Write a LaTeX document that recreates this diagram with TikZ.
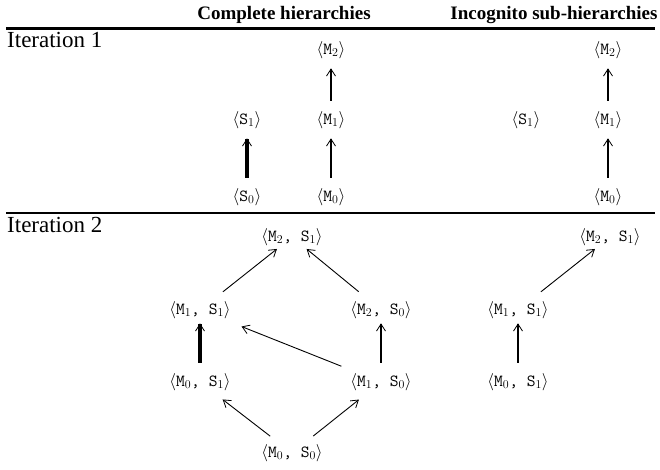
\documentclass[tikz,border=0pt]{standalone}
\usepackage[no-math]{fontspec}
\setmainfont{Liberation Serif}
\usetikzlibrary{arrows.meta,positioning}

\tikzset{
  lev/.style={inner sep=2.5pt, font=\fontsize{17}{20}\selectfont},
  conn/.style={-{Straight Barb[length=7pt,width=9pt,line width=0.8pt]},
    line width=0.9pt, shorten <=8pt, shorten >=5pt},
  medium/.style={conn, line width=2.2pt},
  heavy/.style={conn, line width=3.2pt},
  rulebar/.style={line width=2.8pt},
  colhead/.style={anchor=base, font=\fontsize{19}{22}\selectfont\bfseries},
  iterlabel/.style={anchor=base west, inner sep=0pt, font=\fontsize{23}{26}\selectfont}
}
\newcommand{\gen}[1]{$\langle$\texttt{#1}$\rangle$}

\begin{document}
\begin{tikzpicture}[x=1pt,y=-1pt]
\useasboundingbox (0,0) rectangle (660,470);

\node[colhead] (headA) at (284,20) {Complete hierarchies};
\node[colhead] (headB) at (554,20) {Incognito sub-hierarchies};

\draw[rulebar] (6,28.5) coordinate (ruleAw) -- (655,28.5) coordinate (ruleAe);
\draw[rulebar] (6,213) coordinate (ruleBw) -- (655,213) coordinate (ruleBe);

\node[iterlabel] (iterA) at (7,48) {Iteration 1};
\node[iterlabel] (iterB) at (7,233) {Iteration 2};

% iteration 1, complete
\node[lev] (cM2) at (331,50) {\gen{M$_2$}};
\node[lev] (cM1) at (331,120) {\gen{M$_1$}};
\node[lev] (cM0) at (331,197) {\gen{M$_0$}};
\node[lev] (cS1) at (247,120) {\gen{S$_1$}};
\node[lev] (cS0) at (247,197) {\gen{S$_0$}};

\draw[heavy,shorten >=7pt] (cS0) -- (cS1);
\draw[medium,shorten >=7pt] (cM0) -- (cM1);
\draw[medium,shorten >=7pt] (cM1) -- (cM2);

% iteration 1, incognito
\node[lev] (iM2) at (608,50) {\gen{M$_2$}};
\node[lev] (iM1) at (608,120) {\gen{M$_1$}};
\node[lev] (iM0) at (608,197) {\gen{M$_0$}};
\node[lev] (iS1) at (526,120) {\gen{S$_1$}};

\draw[medium,shorten >=7pt] (iM0) -- (iM1);
\draw[medium,shorten >=7pt] (iM1) -- (iM2);

% iteration 2, complete
\node[lev] (cM2S1) at (292,237) {\gen{M$_2$, S$_1$}};
\node[lev] (cM1S1) at (200,310) {\gen{M$_1$, S$_1$}};
\node[lev] (cM2S0) at (381,310) {\gen{M$_2$, S$_0$}};
\node[lev] (cM0S1) at (200,382) {\gen{M$_0$, S$_1$}};
\node[lev] (cM1S0) at (381,382) {\gen{M$_1$, S$_0$}};
\node[lev] (cM0S0) at (292,453) {\gen{M$_0$, S$_0$}};

\draw[heavy,shorten >=2pt] (cM0S1) -- (cM1S1);
\draw[medium,shorten >=2pt] (cM1S0) -- (cM2S0);
\draw[conn,shorten <=11pt,shorten >=1pt] (cM1S1) -- (cM2S1);
\draw[conn,shorten <=11pt,shorten >=1pt] (cM2S0) -- (cM2S1);
\draw[conn,shorten <=12pt,shorten >=14pt] (cM1S0) -- (cM1S1);
\draw[conn,shorten <=9pt,shorten >=10pt] (cM0S0) -- (cM0S1);
\draw[conn,shorten <=9pt,shorten >=10pt] (cM0S0) -- (cM1S0);

% iteration 2, incognito
\node[lev] (iM2S1) at (610,237) {\gen{M$_2$, S$_1$}};
\node[lev] (iM1S1) at (518,310) {\gen{M$_1$, S$_1$}};
\node[lev] (iM0S1) at (518,382) {\gen{M$_0$, S$_1$}};

\draw[medium,shorten >=2pt] (iM0S1) -- (iM1S1);
\draw[conn,shorten <=11pt,shorten >=1pt] (iM1S1) -- (iM2S1);

\end{tikzpicture}
\end{document}
